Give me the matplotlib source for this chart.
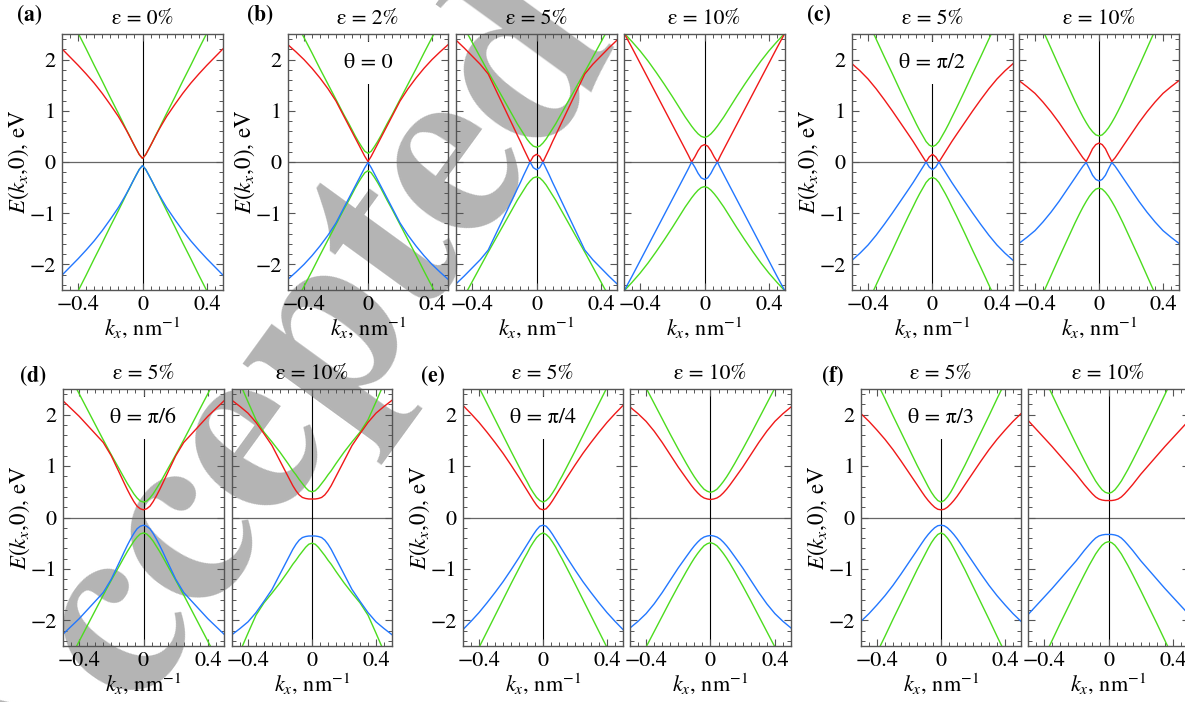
import numpy as np
import matplotlib.pyplot as plt
from matplotlib.ticker import MultipleLocator, FixedLocator

plt.rcParams['font.family'] = 'STIXGeneral'
plt.rcParams['mathtext.fontset'] = 'stix'

# k_x grid (nm^-1) shared by all panels
kx = [-0.5, -0.45, -0.4, -0.35, -0.3, -0.25, -0.2, -0.15, -0.12, -0.1, -0.08, -0.06, -0.04, -0.02, 0,
      0.02, 0.04, 0.06, 0.08, 0.1, 0.12, 0.15, 0.2, 0.25, 0.3, 0.35, 0.4, 0.45, 0.5]

# (a) eps = 0%
red_a = [2.21, 2.05, 1.89, 1.72, 1.54, 1.34, 1.12, 0.89, 0.73, 0.62, 0.5, 0.38, 0.26, 0.145, 0.07, 0.145, 0.26, 0.38, 0.5, 0.62, 0.73, 0.89, 1.12, 1.34, 1.54, 1.72, 1.89, 2.05, 2.21]
blue_a = [-2.21, -2.05, -1.89, -1.72, -1.54, -1.34, -1.12, -0.89, -0.73, -0.62, -0.5, -0.38, -0.26, -0.145, -0.07, -0.145, -0.26, -0.38, -0.5, -0.62, -0.73, -0.89, -1.12, -1.34, -1.54, -1.72, -1.89, -2.05, -2.21]
gup_a = [3.15, 2.84, 2.52, 2.21, 1.89, 1.58, 1.26, 0.95, 0.76, 0.63, 0.51, 0.38, 0.26, 0.145, 0.07, 0.145, 0.26, 0.38, 0.51, 0.63, 0.76, 0.95, 1.26, 1.58, 1.89, 2.21, 2.52, 2.84, 3.15]
gdn_a = [-3.15, -2.84, -2.52, -2.21, -1.89, -1.58, -1.26, -0.95, -0.76, -0.63, -0.51, -0.38, -0.26, -0.145, -0.07, -0.145, -0.26, -0.38, -0.51, -0.63, -0.76, -0.95, -1.26, -1.58, -1.89, -2.21, -2.52, -2.84, -3.15]

# (b) theta = 0, eps = 2%, 5%, 10%
red_b2 = [2.29, 2.15, 2.0, 1.83, 1.64, 1.43, 1.19, 0.89, 0.71, 0.59, 0.47, 0.35, 0.23, 0.11, 0.01, 0.11, 0.23, 0.35, 0.47, 0.59, 0.71, 0.89, 1.19, 1.43, 1.64, 1.83, 2.0, 2.15, 2.29]
blue_b2 = [-2.29, -2.15, -2.0, -1.83, -1.64, -1.43, -1.19, -0.89, -0.71, -0.59, -0.47, -0.35, -0.23, -0.11, -0.01, -0.11, -0.23, -0.35, -0.47, -0.59, -0.71, -0.89, -1.19, -1.43, -1.64, -1.83, -2.0, -2.15, -2.29]
gup_b2 = [3.03, 2.73, 2.43, 2.13, 1.82, 1.52, 1.22, 0.92, 0.75, 0.63, 0.51, 0.4, 0.3, 0.21, 0.17, 0.21, 0.3, 0.4, 0.51, 0.63, 0.75, 0.92, 1.22, 1.52, 1.82, 2.13, 2.43, 2.73, 3.03]
gdn_b2 = [-3.03, -2.73, -2.43, -2.13, -1.82, -1.52, -1.22, -0.92, -0.75, -0.63, -0.51, -0.4, -0.3, -0.21, -0.17, -0.21, -0.3, -0.4, -0.51, -0.63, -0.75, -0.92, -1.22, -1.52, -1.82, -2.13, -2.43, -2.73, -3.03]

red_b5 = [2.38, 2.23, 2.07, 1.91, 1.72, 1.39, 1.06, 0.73, 0.53, 0.4, 0.26, 0.13, 0.0, 0.11, 0.15, 0.11, 0.0, 0.13, 0.26, 0.4, 0.53, 0.73, 1.06, 1.39, 1.72, 1.91, 2.07, 2.23, 2.38]
blue_b5 = [-2.38, -2.23, -2.07, -1.91, -1.72, -1.39, -1.06, -0.73, -0.53, -0.4, -0.26, -0.13, 0.0, -0.11, -0.15, -0.11, 0.0, -0.13, -0.26, -0.4, -0.53, -0.73, -1.06, -1.39, -1.72, -1.91, -2.07, -2.23, -2.38]
gup_b5 = [2.91, 2.63, 2.34, 2.05, 1.76, 1.48, 1.2, 0.92, 0.75, 0.65, 0.55, 0.45, 0.37, 0.31, 0.29, 0.31, 0.37, 0.45, 0.55, 0.65, 0.75, 0.92, 1.2, 1.48, 1.76, 2.05, 2.34, 2.63, 2.91]
gdn_b5 = [-2.91, -2.63, -2.34, -2.05, -1.76, -1.48, -1.2, -0.92, -0.75, -0.65, -0.55, -0.45, -0.37, -0.31, -0.29, -0.31, -0.37, -0.45, -0.55, -0.65, -0.75, -0.92, -1.2, -1.48, -1.76, -2.05, -2.34, -2.63, -2.91]

red_b10 = [2.52, 2.23, 1.93, 1.63, 1.33, 1.03, 0.73, 0.43, 0.25, 0.13, 0.0, 0.1, 0.22, 0.31, 0.34, 0.31, 0.22, 0.1, 0.0, 0.13, 0.25, 0.43, 0.73, 1.03, 1.33, 1.63, 1.93, 2.23, 2.52]
blue_b10 = [-2.52, -2.23, -1.93, -1.63, -1.33, -1.03, -0.73, -0.43, -0.25, -0.13, 0.0, -0.1, -0.22, -0.31, -0.34, -0.31, -0.22, -0.1, 0.0, -0.13, -0.25, -0.43, -0.73, -1.03, -1.33, -1.63, -1.93, -2.23, -2.52]
gup_b10 = [2.52, 2.35, 2.17, 1.97, 1.75, 1.52, 1.28, 1.03, 0.88, 0.79, 0.7, 0.62, 0.55, 0.5, 0.48, 0.5, 0.55, 0.62, 0.7, 0.79, 0.88, 1.03, 1.28, 1.52, 1.75, 1.97, 2.17, 2.35, 2.52]
gdn_b10 = [-2.52, -2.35, -2.17, -1.97, -1.75, -1.52, -1.28, -1.03, -0.88, -0.79, -0.7, -0.62, -0.55, -0.5, -0.48, -0.5, -0.55, -0.62, -0.7, -0.79, -0.88, -1.03, -1.28, -1.52, -1.75, -1.97, -2.17, -2.35, -2.52]

# (c) theta = pi/2, eps = 5%, 10%
red_c5 = [1.92, 1.78, 1.62, 1.43, 1.22, 1.0, 0.77, 0.54, 0.4, 0.3, 0.2, 0.1, 0.0, 0.1, 0.15, 0.1, 0.0, 0.1, 0.2, 0.3, 0.4, 0.54, 0.77, 1.0, 1.22, 1.43, 1.62, 1.78, 1.92]
blue_c5 = [-1.92, -1.78, -1.62, -1.43, -1.22, -1.0, -0.77, -0.54, -0.4, -0.3, -0.2, -0.1, 0.0, -0.1, -0.15, -0.1, 0.0, -0.1, -0.2, -0.3, -0.4, -0.54, -0.77, -1.0, -1.22, -1.43, -1.62, -1.78, -1.92]
gup_c5 = [3.41, 3.08, 2.74, 2.4, 2.06, 1.73, 1.39, 1.06, 0.87, 0.74, 0.62, 0.51, 0.4, 0.33, 0.3, 0.33, 0.4, 0.51, 0.62, 0.74, 0.87, 1.06, 1.39, 1.73, 2.06, 2.4, 2.74, 3.08, 3.41]
gdn_c5 = [-3.41, -3.08, -2.74, -2.4, -2.06, -1.73, -1.39, -1.06, -0.87, -0.74, -0.62, -0.51, -0.4, -0.33, -0.3, -0.33, -0.4, -0.51, -0.62, -0.74, -0.87, -1.06, -1.39, -1.73, -2.06, -2.4, -2.74, -3.08, -3.41]

red_c10 = [1.59, 1.47, 1.34, 1.17, 0.98, 0.77, 0.54, 0.31, 0.17, 0.08, 0.01, 0.13, 0.26, 0.34, 0.37, 0.34, 0.26, 0.13, 0.01, 0.08, 0.17, 0.31, 0.54, 0.77, 0.98, 1.17, 1.34, 1.47, 1.59]
blue_c10 = [-1.59, -1.47, -1.34, -1.17, -0.98, -0.77, -0.54, -0.31, -0.17, -0.08, -0.01, -0.13, -0.26, -0.34, -0.37, -0.34, -0.26, -0.13, -0.01, -0.08, -0.17, -0.31, -0.54, -0.77, -0.98, -1.17, -1.34, -1.47, -1.59]
gup_c10 = [3.64, 3.28, 2.92, 2.57, 2.22, 1.87, 1.53, 1.19, 1.0, 0.88, 0.77, 0.67, 0.59, 0.53, 0.51, 0.53, 0.59, 0.67, 0.77, 0.88, 1.0, 1.19, 1.53, 1.87, 2.22, 2.57, 2.92, 3.28, 3.64]
gdn_c10 = [-3.64, -3.28, -2.92, -2.57, -2.22, -1.87, -1.53, -1.19, -1.0, -0.88, -0.77, -0.67, -0.59, -0.53, -0.51, -0.53, -0.59, -0.67, -0.77, -0.88, -1.0, -1.19, -1.53, -1.87, -2.22, -2.57, -2.92, -3.28, -3.64]

# (d) theta = pi/6
red_d5 = [2.27, 2.12, 1.97, 1.8, 1.63, 1.46, 1.2, 0.87, 0.67, 0.54, 0.42, 0.31, 0.22, 0.17, 0.15, 0.17, 0.22, 0.31, 0.42, 0.54, 0.67, 0.87, 1.2, 1.46, 1.63, 1.8, 1.97, 2.12, 2.27]
blue_d5 = [-2.27, -2.12, -1.97, -1.8, -1.63, -1.46, -1.2, -0.87, -0.67, -0.54, -0.42, -0.31, -0.22, -0.17, -0.15, -0.17, -0.22, -0.31, -0.42, -0.54, -0.67, -0.87, -1.2, -1.46, -1.63, -1.8, -1.97, -2.12, -2.27]
gup_d5 = [3.01, 2.71, 2.41, 2.11, 1.81, 1.51, 1.22, 0.94, 0.77, 0.66, 0.56, 0.46, 0.38, 0.32, 0.3, 0.32, 0.38, 0.46, 0.56, 0.66, 0.77, 0.94, 1.22, 1.51, 1.81, 2.11, 2.41, 2.71, 3.01]
gdn_d5 = [-3.01, -2.71, -2.41, -2.11, -1.81, -1.51, -1.22, -0.94, -0.77, -0.66, -0.56, -0.46, -0.38, -0.32, -0.3, -0.32, -0.38, -0.46, -0.56, -0.66, -0.77, -0.94, -1.22, -1.51, -1.81, -2.11, -2.41, -2.71, -3.01]

red_d10 = [2.28, 2.16, 2.03, 1.85, 1.63, 1.4, 1.1, 0.8, 0.62, 0.52, 0.44, 0.39, 0.37, 0.36, 0.36, 0.36, 0.37, 0.39, 0.44, 0.52, 0.62, 0.8, 1.1, 1.4, 1.63, 1.85, 2.03, 2.16, 2.28]
blue_d10 = [-2.28, -2.16, -2.03, -1.85, -1.63, -1.4, -1.1, -0.8, -0.62, -0.52, -0.44, -0.39, -0.37, -0.36, -0.36, -0.36, -0.37, -0.39, -0.44, -0.52, -0.62, -0.8, -1.1, -1.4, -1.63, -1.85, -2.03, -2.16, -2.28]
gup_d10 = [2.97, 2.61, 2.25, 1.9, 1.66, 1.47, 1.27, 1.05, 0.91, 0.83, 0.74, 0.66, 0.58, 0.52, 0.5, 0.52, 0.58, 0.66, 0.74, 0.83, 0.91, 1.05, 1.27, 1.47, 1.66, 1.9, 2.25, 2.61, 2.97]
gdn_d10 = [-2.97, -2.61, -2.25, -1.9, -1.66, -1.47, -1.27, -1.05, -0.91, -0.83, -0.74, -0.66, -0.58, -0.52, -0.5, -0.52, -0.58, -0.66, -0.74, -0.83, -0.91, -1.05, -1.27, -1.47, -1.66, -1.9, -2.25, -2.61, -2.97]

# (e) theta = pi/4
red_e5 = [2.18, 2.02, 1.85, 1.66, 1.46, 1.25, 1.02, 0.78, 0.63, 0.53, 0.43, 0.33, 0.24, 0.17, 0.15, 0.17, 0.24, 0.33, 0.43, 0.53, 0.63, 0.78, 1.02, 1.25, 1.46, 1.66, 1.85, 2.02, 2.18]
blue_e5 = [-2.18, -2.02, -1.85, -1.66, -1.46, -1.25, -1.02, -0.78, -0.63, -0.53, -0.43, -0.33, -0.24, -0.17, -0.15, -0.17, -0.24, -0.33, -0.43, -0.53, -0.63, -0.78, -1.02, -1.25, -1.46, -1.66, -1.85, -2.02, -2.18]
gup_e5 = [3.15, 2.84, 2.53, 2.22, 1.91, 1.6, 1.29, 0.99, 0.81, 0.7, 0.58, 0.48, 0.39, 0.33, 0.3, 0.33, 0.39, 0.48, 0.58, 0.7, 0.81, 0.99, 1.29, 1.6, 1.91, 2.22, 2.53, 2.84, 3.15]
gdn_e5 = [-3.15, -2.84, -2.53, -2.22, -1.91, -1.6, -1.29, -0.99, -0.81, -0.7, -0.58, -0.48, -0.39, -0.33, -0.3, -0.33, -0.39, -0.48, -0.58, -0.7, -0.81, -0.99, -1.29, -1.6, -1.91, -2.22, -2.53, -2.84, -3.15]

red_e10 = [2.15, 2.02, 1.87, 1.68, 1.46, 1.22, 0.98, 0.76, 0.63, 0.55, 0.48, 0.42, 0.38, 0.36, 0.35, 0.36, 0.38, 0.42, 0.48, 0.55, 0.63, 0.76, 0.98, 1.22, 1.46, 1.68, 1.87, 2.02, 2.15]
blue_e10 = [-2.15, -2.02, -1.87, -1.68, -1.46, -1.22, -0.98, -0.76, -0.63, -0.55, -0.48, -0.42, -0.38, -0.36, -0.35, -0.36, -0.38, -0.42, -0.48, -0.55, -0.63, -0.76, -0.98, -1.22, -1.46, -1.68, -1.87, -2.02, -2.15]
gup_e10 = [3.13, 2.83, 2.52, 2.22, 1.92, 1.62, 1.33, 1.05, 0.89, 0.79, 0.7, 0.62, 0.55, 0.51, 0.49, 0.51, 0.55, 0.62, 0.7, 0.79, 0.89, 1.05, 1.33, 1.62, 1.92, 2.22, 2.52, 2.83, 3.13]
gdn_e10 = [-3.13, -2.83, -2.52, -2.22, -1.92, -1.62, -1.33, -1.05, -0.89, -0.79, -0.7, -0.62, -0.55, -0.51, -0.49, -0.51, -0.55, -0.62, -0.7, -0.79, -0.89, -1.05, -1.33, -1.62, -1.92, -2.22, -2.52, -2.83, -3.13]

# (f) theta = pi/3
red_f5 = [2.02, 1.87, 1.7, 1.52, 1.32, 1.1, 0.87, 0.64, 0.5, 0.41, 0.33, 0.26, 0.2, 0.16, 0.15, 0.16, 0.2, 0.26, 0.33, 0.41, 0.5, 0.64, 0.87, 1.1, 1.32, 1.52, 1.7, 1.87, 2.02]
blue_f5 = [-2.02, -1.87, -1.7, -1.52, -1.32, -1.1, -0.87, -0.64, -0.5, -0.41, -0.33, -0.26, -0.2, -0.16, -0.15, -0.16, -0.2, -0.26, -0.33, -0.41, -0.5, -0.64, -0.87, -1.1, -1.32, -1.52, -1.7, -1.87, -2.02]
gup_f5 = [3.28, 2.95, 2.63, 2.31, 1.98, 1.66, 1.34, 1.02, 0.84, 0.72, 0.6, 0.49, 0.4, 0.33, 0.3, 0.33, 0.4, 0.49, 0.6, 0.72, 0.84, 1.02, 1.34, 1.66, 1.98, 2.31, 2.63, 2.95, 3.28]
gdn_f5 = [-3.28, -2.95, -2.63, -2.31, -1.98, -1.66, -1.34, -1.02, -0.84, -0.72, -0.6, -0.49, -0.4, -0.33, -0.3, -0.33, -0.4, -0.49, -0.6, -0.72, -0.84, -1.02, -1.34, -1.66, -1.98, -2.31, -2.63, -2.95, -3.28]

red_f10 = [1.89, 1.72, 1.55, 1.38, 1.2, 1.02, 0.84, 0.64, 0.53, 0.46, 0.4, 0.36, 0.34, 0.33, 0.33, 0.33, 0.34, 0.36, 0.4, 0.46, 0.53, 0.64, 0.84, 1.02, 1.2, 1.38, 1.55, 1.72, 1.89]
blue_f10 = [-1.89, -1.72, -1.55, -1.38, -1.2, -1.02, -0.84, -0.64, -0.53, -0.46, -0.4, -0.36, -0.34, -0.33, -0.33, -0.33, -0.34, -0.36, -0.4, -0.46, -0.53, -0.64, -0.84, -1.02, -1.2, -1.38, -1.55, -1.72, -1.89]
gup_f10 = [3.38, 3.05, 2.72, 2.39, 2.06, 1.74, 1.42, 1.11, 0.93, 0.82, 0.71, 0.62, 0.54, 0.49, 0.47, 0.49, 0.54, 0.62, 0.71, 0.82, 0.93, 1.11, 1.42, 1.74, 2.06, 2.39, 2.72, 3.05, 3.38]
gdn_f10 = [-3.38, -3.05, -2.72, -2.39, -2.06, -1.74, -1.42, -1.11, -0.93, -0.82, -0.71, -0.62, -0.54, -0.49, -0.47, -0.49, -0.54, -0.62, -0.71, -0.82, -0.93, -1.11, -1.42, -1.74, -2.06, -2.39, -2.72, -3.05, -3.38]

RED, BLUE, GREEN = '#f01818', '#2277ff', '#4cdc1e'
FRAME = '#555555'
W, H = 1185, 702

fig = plt.figure(figsize=(W / 100, H / 100), dpi=100)

# watermark behind everything
fig.text(273 / W, 1 - 415 / H, 'Accepted', fontsize=185, fontweight='bold',
         rotation=54, rotation_mode='anchor', ha='center', va='center',
         color='#b4b4b4', zorder=-1)


def make_axes(x0, x1, y0, y1):
    return fig.add_axes([x0 / W, 1 - y1 / H, (x1 - x0) / W, (y1 - y0) / H])


# (pixel box, title, red, blue, green up, green down, show y labels, theta text)
top = (34, 290)
bot = (389, 646)
panels = [
    ((62, 223) + top, 'ε = 0%', red_a, blue_a, gup_a, gdn_a, True, None),
    ((288, 448) + top, 'ε = 2%', red_b2, blue_b2, gup_b2, gdn_b2, True, 'θ = 0'),
    ((456, 617) + top, 'ε = 5%', red_b5, blue_b5, gup_b5, gdn_b5, False, None),
    ((624, 785) + top, 'ε = 10%', red_b10, blue_b10, gup_b10, gdn_b10, False, None),
    ((852, 1013) + top, 'ε = 5%', red_c5, blue_c5, gup_c5, gdn_c5, True, 'θ = π/2'),
    ((1019, 1179) + top, 'ε = 10%', red_c10, blue_c10, gup_c10, gdn_c10, False, None),
    ((63, 224) + bot, 'ε = 5%', red_d5, blue_d5, gup_d5, gdn_d5, True, 'θ = π/6'),
    ((232, 392) + bot, 'ε = 10%', red_d10, blue_d10, gup_d10, gdn_d10, False, None),
    ((463, 623) + bot, 'ε = 5%', red_e5, blue_e5, gup_e5, gdn_e5, True, 'θ = π/4'),
    ((630, 791) + bot, 'ε = 10%', red_e10, blue_e10, gup_e10, gdn_e10, False, None),
    ((861, 1021) + bot, 'ε = 5%', red_f5, blue_f5, gup_f5, gdn_f5, True, 'θ = π/3'),
    ((1028, 1189) + bot, 'ε = 10%', red_f10, blue_f10, gup_f10, gdn_f10, False, None),
]

for (x0, x1, y0, y1), title, red, blue, gup, gdn, show_y, theta in panels:
    ax = make_axes(x0, x1, y0, y1)
    ax.set_facecolor('none')
    ax.axhline(0, color='#666666', lw=0.9, zorder=1)
    ax.axvline(0, color='black', lw=0.8, zorder=1)
    ax.plot(kx, gup, color=GREEN, lw=1.0, zorder=2)
    ax.plot(kx, gdn, color=GREEN, lw=1.0, zorder=2)
    ax.plot(kx, red, color=RED, lw=1.0, zorder=2)
    ax.plot(kx, blue, color=BLUE, lw=1.0, zorder=2)
    ax.set_xlim(-0.5, 0.5)
    ax.set_ylim(-2.5, 2.5)

    ax.xaxis.set_major_locator(FixedLocator([-0.4, 0, 0.4]))
    ax.set_xticklabels(['\u22120.4', '0', '0.4'])
    ax.xaxis.set_minor_locator(MultipleLocator(0.05))
    ax.yaxis.set_major_locator(MultipleLocator(1))
    ax.yaxis.set_minor_locator(MultipleLocator(0.2))
    ax.tick_params(which='both', direction='in', top=True, right=True,
                   color=FRAME, labelsize=16)
    ax.tick_params(axis='x', pad=4)
    ax.tick_params(axis='y', pad=4.5)
    ax.tick_params(which='major', length=5, width=0.8)
    ax.tick_params(which='minor', length=3, width=0.7)
    for sp in ax.spines.values():
        sp.set_color(FRAME)
        sp.set_linewidth(1.0)

    ax.set_xlabel(r'$k_x$, nm$^{-1}$', fontsize=16, labelpad=0)
    if show_y:
        ax.set_ylabel(r'$E(k_x{,}0)$, eV', fontsize=16.5)
        ax.yaxis.set_label_coords(-31 / (x1 - x0), 0.5)
    else:
        ax.tick_params(labelleft=False)
    ax.set_title(title, fontsize=15.5, pad=7)

    if theta:
        ax.text(0, 1.93, theta, fontsize=16, ha='center', va='center', zorder=1.5,
                bbox=dict(boxstyle='square,pad=0.5', fc='white', ec='none'))

# panel letters
letters = [('(a)', 17, 16), ('(b)', 247, 16), ('(c)', 807, 16),
           ('(d)', 20, 377), ('(e)', 421, 377), ('(f)', 822, 377)]
for lab, px, py in letters:
    fig.text(px / W, 1 - py / H, lab, fontsize=15.5, fontweight='bold',
             ha='left', va='center')

fig.savefig('out.png', dpi=100)
